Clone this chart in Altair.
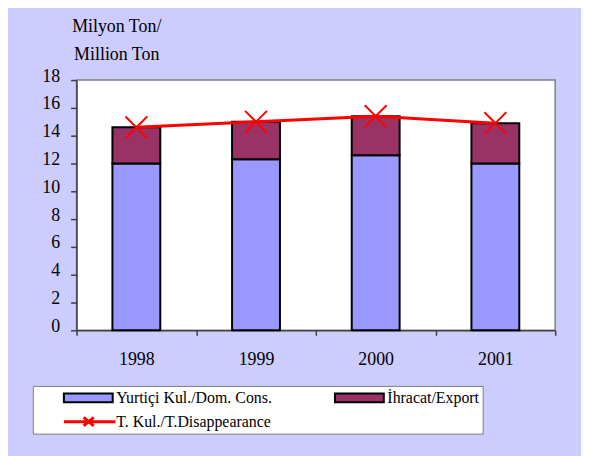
import altair as alt
import pandas as pd

FONT = "Liberation Serif"

years = ["1998", "1999", "2000", "2001"]
domestic = [12.0, 12.3, 12.6, 12.0]
export = [2.6, 2.7, 2.8, 2.9]
total = [14.6, 15.0, 15.4, 14.9]
series_names = ["Yurtiçi Kul./Dom. Cons.", "İhracat/Export", "T. Kul./T.Disappearance"]
series_colors = ["#9999FF", "#993366", "#FF0000"]
y_ticks = [0, 2, 4, 6, 8, 10, 12, 14, 16, 18]
y_title = ["Milyon Ton/", "Million Ton"]

bar_df = pd.DataFrame({
    "year": years + years,
    "series": [series_names[0]] * len(years) + [series_names[1]] * len(years),
    "value": domestic + export,
    "stackorder": [0] * len(years) + [1] * len(years),
})
line_df = pd.DataFrame({
    "year": years,
    "series": [series_names[2]] * len(years),
    "value": total,
})
legend_df = pd.DataFrame({"series": series_names})

X_SHAPE = "M-1,-1L1,1M-1,1L1,-1"
RECT_SYM = "M-1,0L-1,0M-0.30,-0.115H0.96V0.115H-0.30Z"
LINE_SYM = "M-1,0L-1,0M-0.30,0H1.03M0.21,-0.11L0.47,0.11M0.21,0.11L0.47,-0.11"
is_line = f"datum.value === '{series_names[2]}'"
is_dom = f"datum.value === '{series_names[0]}'"
fill_expr = f"({is_line} ? 'transparent' : ({is_dom} ? '{series_colors[0]}' : '{series_colors[1]}'))"
stroke_expr = f"({is_line} ? '{series_colors[2]}' : '#000000')"
width_expr = f"({is_line} ? 3 : 2)"

# colour scale (domain order differs from the legend's shape scale on purpose)
color_scale = alt.Scale(
    domain=[series_names[1], series_names[0], series_names[2]],
    range=[series_colors[1], series_colors[0], series_colors[2]],
)

legend = alt.Legend(
    title=None,
    orient="none",
    legendX=-44,
    legendY=308,
    columns=2,
    direction="horizontal",
    gridAlign="all",
    labelFont=FONT,
    labelFontSize=16,
    labelColor="black",
    labelOffset=1,
    labelLimit=400,
    symbolSize=6084,
    symbolOpacity=1,
    symbolFillColor=alt.ExprRef(fill_expr),
    symbolStrokeColor=alt.ExprRef(stroke_expr),
    symbolStrokeWidth=alt.ExprRef(width_expr),
    clipHeight=18,
    rowPadding=6,
    columnPadding=35,
    padding=3,
    fillColor="white",
    strokeColor="#808080",
)

AXIS_STYLE = dict(
    grid=False,
    domainColor="#404040",
    domainWidth=1.5,
    tickColor="#404040",
    tickWidth=1.5,
    labelColor="black",
    labelFont=FONT,
    titleFont=FONT,
)

x_enc = alt.X(
    "year:N",
    sort=years,
    scale=alt.Scale(paddingInner=0, paddingOuter=0),
    axis=alt.Axis(
        title=None,
        labelAngle=0,
        tickBand="extent",
        tickSize=5,
        labelPadding=15,
        labelFontSize=18,
        **AXIS_STYLE,
    ),
)

y_scale = alt.Scale(domain=[0, 18], nice=False)

bars = alt.Chart(bar_df).mark_bar(
    stroke="black", strokeWidth=2, width=alt.RelativeBandSize(0.4)
).encode(
    x=x_enc,
    y=alt.Y(
        "value:Q",
        stack="zero",
        scale=y_scale,
        axis=alt.Axis(
            values=y_ticks,
            tickCount=len(y_ticks),
            title=y_title,
            titleAngle=0,
            titleX=40,
            titleY=-63,
            titleAlign="center",
            titleBaseline="top",
            titleLineHeight=28,
            titleFontSize=18,
            titleFontWeight="normal",
            titleColor="black",
            labelFontSize=18,
            labelBaseline="middle",
            labelOffset=-4,
            labelOverlap=False,
            tickSize=6,
            labelPadding=11,
            **AXIS_STYLE,
        ),
    ),
    color=alt.Color("series:N", scale=color_scale, legend=None),
    order=alt.Order("stackorder:Q", sort="ascending"),
)

line = alt.Chart(line_df).mark_line(strokeWidth=3).encode(
    x=alt.X("year:N", sort=years),
    y=alt.Y("value:Q", scale=y_scale),
    color=alt.Color("series:N", scale=color_scale, legend=None),
)

points = alt.Chart(line_df).mark_point(
    shape=X_SHAPE, size=484, filled=False, strokeWidth=2, opacity=1
).encode(
    x=alt.X("year:N", sort=years),
    y=alt.Y("value:Q", scale=y_scale),
    color=alt.Color("series:N", scale=color_scale, legend=None),
)

legend_layer = alt.Chart(legend_df).mark_point(filled=True, opacity=0).encode(
    fill=alt.Fill(
        "series:N",
        scale=alt.Scale(domain=series_names[::-1], range=series_colors[::-1]),
        legend=None,
    ),
    shape=alt.Shape(
        "series:N",
        scale=alt.Scale(domain=series_names, range=[RECT_SYM, RECT_SYM, LINE_SYM]),
        legend=legend,
    ),
)

chart = alt.layer(bars, line, points, legend_layer).properties(
    width=482,
    height=252,
    padding={"left": 69, "top": 71, "right": 26, "bottom": 130},
    autosize=alt.AutoSizeParams(type="none"),
    background="#CCCCFF",
    view=alt.ViewBackground(fill="white", stroke="#808080", strokeWidth=1.5),
)

chart.save("out.html", embed_options={"renderer": "svg", "actions": False})
